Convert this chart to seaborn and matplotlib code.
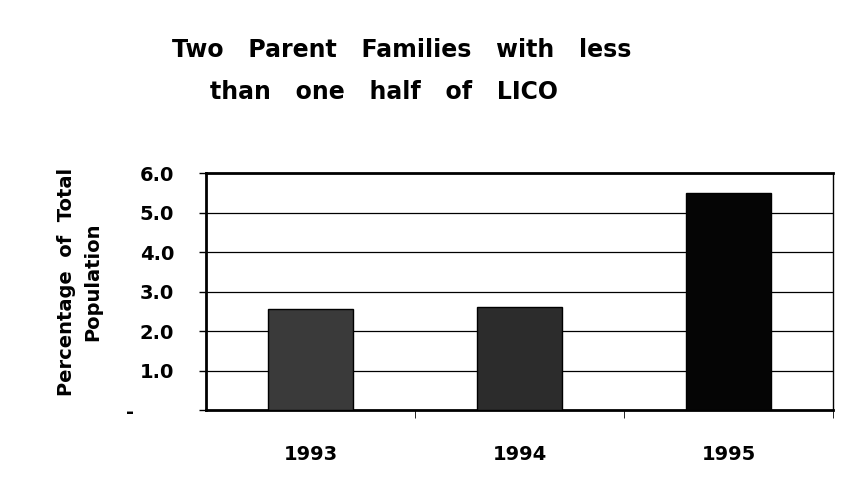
import numpy as np
import pandas as pd
import matplotlib
matplotlib.use("Agg")
import matplotlib.pyplot as plt
import seaborn as sns

# ------------------------------------------------------------
# Data
# ------------------------------------------------------------
years = ["1993", "1994", "1995"]
percent = [2.55, 2.6, 5.5]
bar_colors = ["#3a3a3a", "#2c2c2c", "#050505"]
y_ticks = [0, 1, 2, 3, 4, 5, 6]
y_tick_labels = ["-      ", "1.0", "2.0", "3.0", "4.0", "5.0", "6.0"]

df = pd.DataFrame({"Year": years, "Percent": percent})

sns.set_style("white")
plt.rcParams["font.family"] = ["DejaVu Sans"]
plt.rcParams["text.color"] = "black"
plt.rcParams["xtick.color"] = "black"
plt.rcParams["ytick.color"] = "black"
plt.rcParams["axes.labelcolor"] = "black"

fig = plt.figure(figsize=(8.51, 4.98), dpi=100)
ax = fig.add_axes([206 / 851, 1 - 410 / 498, 627 / 851, 237 / 498])

sns.barplot(data=df, x="Year", y="Percent", hue="Year", palette=bar_colors,
            legend=False, width=0.41, edgecolor="black", linewidth=1,
            saturation=1, ax=ax, zorder=3)

ax.set_ylim(0, 6)
ax.set_xlim(-0.5, 2.5)
ax.set_yticks(y_ticks)
ax.set_yticklabels(y_tick_labels, fontsize=14, fontweight="bold")
ax.set_xticks([0, 1, 2])
ax.set_xticklabels(years, fontsize=14, fontweight="bold")
ax.tick_params(axis="x", length=0, pad=25)
ax.tick_params(axis="y", length=5, direction="out", left=True, width=1, pad=18)

# category boundary ticks on x axis
ax.set_xticks([0.5, 1.5, 2.5], minor=True)
ax.tick_params(axis="x", which="minor", length=6, direction="out", bottom=True)

for v in [1, 2, 3, 4, 5]:
    ax.axhline(v, color="black", linewidth=0.9, zorder=1)

for side in ["left", "bottom", "top"]:
    ax.spines[side].set_visible(True)
    ax.spines[side].set_color("black")
    ax.spines[side].set_linewidth(2)
ax.spines["right"].set_visible(True)
ax.spines["right"].set_color("black")
ax.spines["right"].set_linewidth(1)

ax.set_xlabel("")
ax.set_ylabel("")
fig.text(80 / 851, 1 - 282 / 498, "Percentage  of  Total\nPopulation",
         rotation=90, ha="center", va="center", fontsize=14,
         fontweight="bold", linespacing=1.5)

# title, two lines as in the original
fig.text(402 / 851, 1 - 50 / 498, "Two   Parent   Families   with   less",
         ha="center", va="center", fontsize=17, fontweight="bold")
fig.text(384 / 851, 1 - 92 / 498, "than   one   half   of   LICO",
         ha="center", va="center", fontsize=17, fontweight="bold")

plt.savefig("out.png", dpi=100)
